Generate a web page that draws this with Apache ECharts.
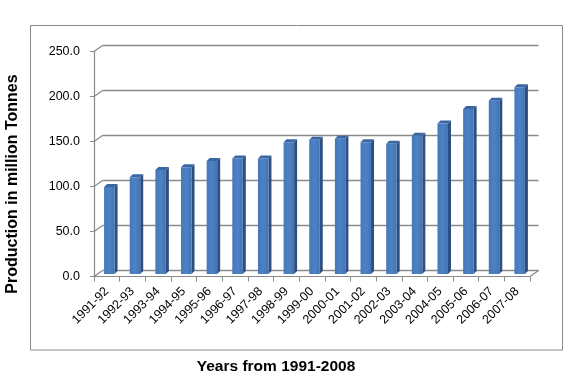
<!DOCTYPE html>
<html><head><meta charset="utf-8">
<script src="https://cdn.jsdelivr.net/npm/echarts@6/dist/echarts.min.js"></script>
<style>html,body{margin:0;padding:0;background:#fff}#c{width:588px;height:381px}</style>
</head><body><div id="c"></div>
<script>
var categories = ['1991-92','1992-93','1993-94','1994-95','1995-96','1996-97','1997-98','1998-99','1999-00','2000-01','2001-02','2002-03','2003-04','2004-05','2005-06','2006-07','2007-08'];
var production = [96.6, 107.4, 115.6, 118.6, 125.6, 128.4, 128.3, 146.3, 149.2, 150.4, 146.5, 144.6, 153.6, 167.2, 183.4, 192.6, 207.6];
var yTicks = [0, 50, 100, 150, 200, 250];
var yTitle = 'Production in million Tonnes';
var xTitle = 'Years from 1991-2008';

var chart = echarts.init(document.getElementById('c'), null, {renderer: 'canvas'});
var GRID = '#8a8a8a';
var DX = 8.5, DY = -6;      // wall depth
var BX = 2.5, BY = -2.5;    // bar depth position
var SD = 3;                 // bar side depth

var option = {
  animation: false,
  backgroundColor: '#fff',
  grid: [
    {left: 94, top: 51.5, width: 436, height: 225},
    {left: 102.5, top: 45.5, width: 436, height: 225}
  ],
  xAxis: [
    {type: 'category', gridIndex: 0, data: categories,
     axisLine: {lineStyle: {color: GRID, width: 1.2}},
     axisTick: {show: true, length: 5, lineStyle: {color: GRID}},
     axisLabel: {rotate: 45, margin: 13, fontSize: 12.5, color: '#000', fontFamily: 'Liberation Sans', interval: 0}},
    {type: 'category', gridIndex: 1, data: categories, show: false}
  ],
  yAxis: [
    {type: 'value', gridIndex: 0, min: 0, max: 250, interval: 50,
     axisLine: {show: true, lineStyle: {color: GRID, width: 1.2}},
     axisTick: {show: true, length: 4, lineStyle: {color: GRID}},
     splitLine: {show: false},
     axisLabel: {formatter: function(v){return v.toFixed(1);}, margin: 14, fontSize: 12.5, color: '#000', fontFamily: 'Liberation Sans'}},
    {type: 'value', gridIndex: 1, min: 0, max: 250, interval: 50,
     axisLine: {show: false}, axisTick: {show: false}, axisLabel: {show: false},
     splitLine: {show: true, lineStyle: {color: GRID, width: 1.4}}}
  ],
  graphic: [
    {type: 'rect', shape: {x: 30.5, y: 25.5, width: 532, height: 324.5}, style: {fill: 'none', stroke: '#8a8a8a', lineWidth: 1}, z: -1},
    {type: 'text', x: 13, y: 184, rotation: Math.PI/2, style: {text: yTitle, font: 'bold 16px "Liberation Sans"', fill: '#000', textAlign: 'center', textVerticalAlign: 'middle'}},
    {type: 'text', x: 276, y: 367, style: {text: xTitle, font: 'bold 15.5px "Liberation Sans"', fill: '#000', textAlign: 'center', textVerticalAlign: 'middle'}}
  ],
  series: [
    {
      type: 'custom', xAxisIndex: 0, yAxisIndex: 0, silent: true, z: 1,
      data: yTicks.map(function(v){return [0, v];}),
      encode: {x: 0, y: 1},
      renderItem: function(params, api){
        var cs = params.coordSys;
        var v = api.value(1);
        var y = api.coord([0, v])[1];
        var ch = [{type: 'line', shape: {x1: cs.x, y1: y, x2: cs.x + DX, y2: y + DY}, style: {stroke: GRID, lineWidth: 1.3}}];
        if (v === 0) {
          ch.push({type: 'line', shape: {x1: cs.x + cs.width, y1: y, x2: cs.x + cs.width + DX, y2: y + DY}, style: {stroke: GRID, lineWidth: 1.3}});
        }
        return {type: 'group', children: ch};
      }
    },
    {
      type: 'custom', xAxisIndex: 0, yAxisIndex: 0, z: 3,
      data: production.map(function(v, i){return [i, v];}),
      encode: {x: 0, y: 1},
      renderItem: function(params, api){
        var i = api.value(0), v = api.value(1);
        var top = api.coord([i, v]);
        var bot = api.coord([i, 0]);
        var w = 10.5;
        var x0 = top[0] + BX - w/2, x1 = x0 + w;
        var yt = top[1] + BY, yb = bot[1] + BY;
        return {type: 'group', children: [
          {type: 'polygon', shape: {points: [[x1, yt], [x1 + SD, yt - SD], [x1 + SD, yb - SD], [x1, yb]]}, style: {fill: '#2c4f7f'}},
          {type: 'polygon', shape: {points: [[x0, yt], [x0 + SD, yt - SD], [x1 + SD, yt - SD], [x1, yt]]}, style: {fill: '#3a66a3'}},
          {type: 'rect', shape: {x: x0, y: yt, width: w, height: yb - yt},
           style: {fill: new echarts.graphic.LinearGradient(0, 0, 1, 0, [{offset: 0, color: '#4677ba'}, {offset: 0.5, color: '#4d82c4'}, {offset: 1, color: '#4374b4'}])}}
        ]};
      }
    }
  ]
};
chart.setOption(option);
</script></body></html>
